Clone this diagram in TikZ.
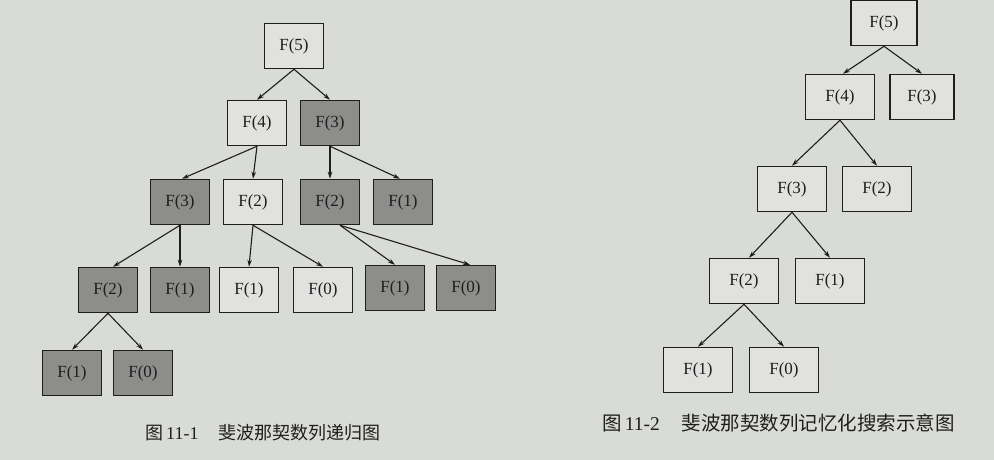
\documentclass[tikz,border=0pt]{standalone}
\usepackage{fontspec}
\setmainfont{Liberation Serif}
\newfontfamily\cjk{Noto Sans CJK SC}
\usetikzlibrary{arrows.meta}
\definecolor{paper}{HTML}{D9DBD7}
\definecolor{boxw}{HTML}{E1E2DF}
\definecolor{boxg}{HTML}{8D8D8B}
\definecolor{ink}{HTML}{1E1E1E}
\begin{document}
\begin{tikzpicture}[x=1pt,y=-1pt,
  fbox/.style={draw=ink,line width=1.5pt,minimum height=45pt,inner sep=0pt,font=\fontsize{17}{17}\selectfont,text=ink},
  lw/.style={fbox,minimum width=59pt,fill=boxw},
  lg/.style={fbox,minimum width=59pt,fill=boxg},
  rw/.style={fbox,minimum width=69pt,fill=boxw},
  conn/.style={draw=ink,line width=1.1pt,-{Stealth[length=7pt,width=4.5pt]}}]
\fill[paper] (0,0) rectangle (994,460);
\useasboundingbox (0,0) rectangle (994,460);
% left tree
\node[lw] (a5) at (294,46) {F(5)};
\node[lw] (a4) at (257,123) {F(4)};
\node[lg] (b3) at (330,123) {F(3)};
\node[lg] (c3) at (180,202) {F(3)};
\node[lw] (c2) at (253,202) {F(2)};
\node[lg] (d2) at (330,202) {F(2)};
\node[lg] (d1) at (403,202) {F(1)};
\node[lg] (e2) at (108,290) {F(2)};
\node[lg] (e1) at (180,290) {F(1)};
\node[lw] (f1) at (249,290) {F(1)};
\node[lw] (f0) at (323,290) {F(0)};
\node[lg] (g1) at (395,288) {F(1)};
\node[lg] (g0) at (466,288) {F(0)};
\node[lg] (h1) at (72,373) {F(1)};
\node[lg] (h0) at (143,373) {F(0)};
\draw[conn] (a5.south) -- (a4.north);
\draw[conn] (a5.south) -- (b3.north);
\draw[conn] (a4.south) -- ([xshift=2pt]c3.north);
\draw[conn] (a4.south) -- (c2.north);
\draw[conn] (b3.south) -- (d2.north);
\draw[conn] (b3.south) -- ([xshift=-3pt]d1.north);
\draw[conn] (c3.south) -- ([xshift=5pt]e2.north);
\draw[conn] (c3.south) -- (e1.north);
\draw[conn] (c2.south) -- (f1.north);
\draw[conn] (c2.south) -- (f0.north);
\draw[conn] ([xshift=10pt]d2.south) -- (g1.north);
\draw[conn] ([xshift=10pt]d2.south) -- ([xshift=4pt]g0.north);
\draw[conn] (e2.south) -- (h1.north);
\draw[conn] (e2.south) -- (h0.north);
% right tree
\node[fbox,minimum width=66pt,fill=boxw] (r5) at (884,23) {F(5)};
\node[rw] (r4) at (840,97) {F(4)};
\node[fbox,minimum width=64pt,fill=boxw] (r3) at (922,97) {F(3)};
\node[rw] (s3) at (792,189) {F(3)};
\node[rw] (s2) at (877,189) {F(2)};
\node[rw] (t2) at (744,281) {F(2)};
\node[rw] (t1) at (830,281) {F(1)};
\node[rw] (u1) at (698,370) {F(1)};
\node[rw] (u0) at (784,370) {F(0)};
\draw[conn] (r5.south) -- ([xshift=3pt]r4.north);
\draw[conn] (r5.south) -- (r3.north);
\draw[conn] (r4.south) -- (s3.north);
\draw[conn] (r4.south) -- (s2.north);
\draw[conn] (s3.south) -- ([xshift=5pt]t2.north);
\draw[conn] (s3.south) -- (t1.north);
\draw[conn] (t2.south) -- (u1.north);
\draw[conn] (t2.south) -- (u0.north);
% captions
\node[anchor=west,inner sep=0pt,text=ink,font=\fontsize{18}{18}\selectfont] (cap1) at (145,433) {{\cjk 图}\,11-1\hspace{20pt}{\cjk 斐波那契数列递归图}};
\node[anchor=west,inner sep=0pt,text=ink,font=\fontsize{19.5}{19.5}\selectfont] (cap2) at (602,423) {{\cjk 图}\,11-2\hspace{22pt}{\cjk 斐波那契数列记忆化搜索示意图}};
\end{tikzpicture}
\end{document}
